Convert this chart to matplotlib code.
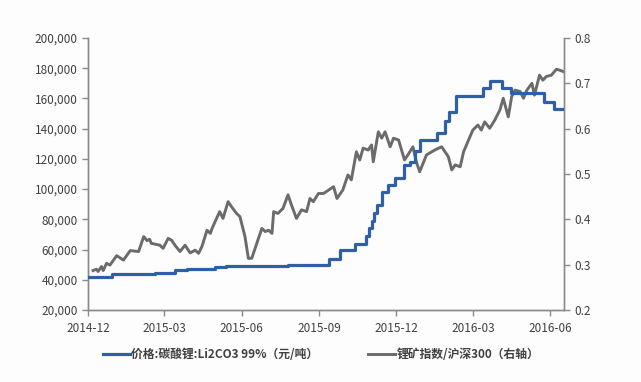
import numpy as np
import pandas as pd
import matplotlib
matplotlib.use("Agg")
import matplotlib.pyplot as plt
from matplotlib.ticker import FuncFormatter
from matplotlib.lines import Line2D

plt.rcParams['font.family'] = ['Noto Sans CJK SC', 'DejaVu Sans']

# lithium carbonate price (step series, CNY/ton)
li_dates = ['2014-12-01', '2014-12-29', '2015-02-18', '2015-03-14', '2015-03-28',
            '2015-04-30', '2015-05-14', '2015-07-26', '2015-09-12', '2015-09-25',
            '2015-10-13', '2015-10-26', '2015-10-30', '2015-11-02', '2015-11-05',
            '2015-11-08', '2015-11-14', '2015-11-22', '2015-11-30', '2015-12-10',
            '2015-12-17', '2015-12-23', '2015-12-29', '2016-01-18', '2016-01-28',
            '2016-02-02', '2016-02-10', '2016-03-13', '2016-03-21', '2016-04-05',
            '2016-04-15', '2016-05-24', '2016-06-05', '2016-06-17']
li_price = [42000, 44000, 44800, 46500, 47300,
            48300, 49300, 49800, 54000, 59500,
            64000, 69000, 74000, 79000, 84000,
            89500, 98300, 102700, 107300, 116000,
            118000, 125000, 132500, 137000, 145000,
            151000, 161600, 166700, 171800, 166700,
            163400, 157900, 152800, 152800]

# lithium mining index / CSI 300 (right axis)
idx_dates = ['2014-12-07', '2014-12-11', '2014-12-13', '2014-12-17', '2014-12-19',
             '2014-12-23', '2014-12-27', '2015-01-04', '2015-01-12', '2015-01-20',
             '2015-01-30', '2015-02-05', '2015-02-09', '2015-02-12', '2015-02-14',
             '2015-02-24', '2015-02-28', '2015-03-06', '2015-03-10', '2015-03-14',
             '2015-03-20', '2015-03-26', '2015-04-01', '2015-04-07', '2015-04-11',
             '2015-04-15', '2015-04-21', '2015-04-25', '2015-04-27', '2015-05-06',
             '2015-05-10', '2015-05-16', '2015-05-20', '2015-05-26', '2015-05-30',
             '2015-06-05', '2015-06-09', '2015-06-13', '2015-06-19', '2015-06-25',
             '2015-06-29', '2015-07-03', '2015-07-07', '2015-07-09', '2015-07-14',
             '2015-07-20', '2015-07-26', '2015-07-30', '2015-08-05', '2015-08-11',
             '2015-08-17', '2015-08-21', '2015-08-25', '2015-08-31', '2015-09-06',
             '2015-09-18', '2015-09-22', '2015-09-29', '2015-10-05', '2015-10-09',
             '2015-10-15', '2015-10-19', '2015-10-23', '2015-10-29', '2015-11-02',
             '2015-11-04', '2015-11-10', '2015-11-14', '2015-11-18', '2015-11-24',
             '2015-11-28', '2015-12-04', '2015-12-11', '2015-12-15', '2015-12-21',
             '2015-12-25', '2015-12-29', '2016-01-06', '2016-01-16', '2016-01-24',
             '2016-02-01', '2016-02-05', '2016-02-09', '2016-02-15', '2016-02-19',
             '2016-02-24', '2016-03-01', '2016-03-07', '2016-03-11', '2016-03-15',
             '2016-03-21', '2016-03-27', '2016-04-02', '2016-04-06', '2016-04-12',
             '2016-04-16', '2016-04-20', '2016-04-26', '2016-04-30', '2016-05-04',
             '2016-05-10', '2016-05-13', '2016-05-19', '2016-05-23', '2016-05-27',
             '2016-06-02', '2016-06-08', '2016-06-12', '2016-06-16']
idx_ratio = [0.287, 0.290, 0.285, 0.296, 0.287,
             0.303, 0.299, 0.320, 0.310, 0.331,
             0.329, 0.362, 0.353, 0.356, 0.347,
             0.343, 0.336, 0.358, 0.354, 0.343,
             0.329, 0.343, 0.326, 0.332, 0.325,
             0.340, 0.376, 0.369, 0.380, 0.417,
             0.402, 0.439, 0.428, 0.413, 0.406,
             0.362, 0.314, 0.314, 0.347, 0.380,
             0.373, 0.376, 0.369, 0.417, 0.413,
             0.424, 0.454, 0.432, 0.402, 0.421,
             0.417, 0.446, 0.439, 0.457, 0.457,
             0.472, 0.446, 0.465, 0.498, 0.487,
             0.549, 0.531, 0.557, 0.553, 0.564,
             0.527, 0.593, 0.579, 0.593, 0.560,
             0.579, 0.575, 0.531, 0.542, 0.560,
             0.527, 0.505, 0.542, 0.553, 0.560,
             0.538, 0.509, 0.520, 0.516, 0.549,
             0.571, 0.597, 0.608, 0.597, 0.615,
             0.601, 0.619, 0.641, 0.667, 0.626,
             0.671, 0.685, 0.682, 0.667, 0.685,
             0.700, 0.674, 0.718, 0.707, 0.715,
             0.718, 0.731, 0.729, 0.726]

tick_dates = ['2014-12-01', '2015-03-01', '2015-06-01', '2015-09-01',
              '2015-12-01', '2016-03-01', '2016-06-01']
tick_labels = ['2014-12', '2015-03', '2015-06', '2015-09', '2015-12', '2016-03', '2016-06']

label_li = '价格:碳酸锂:Li2CO3 99%（元/吨）'
label_idx = '锂矿指数/沪深300（右轴）'

blue = '#2f5fa8'
gray = '#6b6b6b'
axis_c = '#8a8a8a'
txt_c = '#404040'

fig = plt.figure(figsize=(6.41, 3.82), dpi=100)
fig.patch.set_facecolor('#fdfdfd')
ax = fig.add_axes([88/641, 1-310/382, (564-88)/641, (310-38)/382])
ax2 = ax.twinx()

ax.step(pd.to_datetime(li_dates), li_price, where='post', color=blue, lw=2.3, zorder=3)
ax2.plot(pd.to_datetime(idx_dates), idx_ratio, color=gray, lw=2.1)
ax.set_zorder(ax2.get_zorder() + 1)
ax.patch.set_visible(False)
ax2.set_facecolor('#fdfdfd')

ax.set_xlim(pd.Timestamp('2014-12-01'), pd.Timestamp('2016-06-17'))
ax.set_ylim(20000, 200000)
ax.set_yticks(np.arange(20000, 200001, 20000))
ax.yaxis.set_major_formatter(FuncFormatter(lambda v, p: f'{int(v):,}'))
ax2.set_ylim(0.2, 0.8)
ax2.set_yticks(np.arange(0.2, 0.81, 0.1))
ax2.yaxis.set_major_formatter(FuncFormatter(lambda v, p: f'{v:.1f}'))

ax.set_xticks(pd.to_datetime(tick_dates))
ax.set_xticklabels(tick_labels)

for a in (ax, ax2):
    a.spines['top'].set_visible(False)
    for s in ('left', 'right', 'bottom'):
        a.spines[s].set_color(axis_c)
        a.spines[s].set_linewidth(1.0)
    a.tick_params(colors=axis_c, labelcolor=txt_c, labelsize=8.5, length=4, width=1)
ax.tick_params(axis='x', pad=5)

# two legend entries placed separately below the axes
entries = [(Line2D([], [], color=blue, lw=2.3), label_li, 0.160),
           (Line2D([], [], color=gray, lw=2.1), label_idx, 0.574)]
for h, lab, xpos in entries:
    leg = fig.legend([h], [lab], loc='center left', bbox_to_anchor=(xpos, 0.071),
                     frameon=False, handlelength=2.3, handletextpad=0.15,
                     borderpad=0, borderaxespad=0, prop={'size': 8.5, 'weight': 'bold'})
    for t in leg.get_texts():
        t.set_color(txt_c)

fig.savefig('out.png', dpi=100, facecolor=fig.get_facecolor())
